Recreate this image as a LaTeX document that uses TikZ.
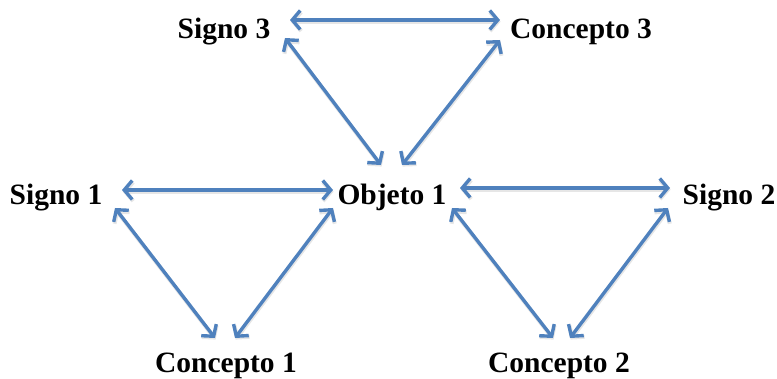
\documentclass[tikz,border=0pt]{standalone}
\usepackage{fontspec}
\setmainfont{Liberation Serif}
\usetikzlibrary{arrows.meta}
\definecolor{arrowblue}{HTML}{4F81BD}
\definecolor{shadowgray}{HTML}{E6E6E6}
\tikzset{
  lbl/.style={anchor=base, inner sep=0pt, font=\fontsize{29.5}{34}\selectfont\bfseries},
  tips/.style={{Straight Barb[length=8pt,width=19pt]}-{Straight Barb[length=8pt,width=19pt]}},
  link/.style={tips, draw=arrowblue, line width=3.4pt,
    preaction={draw=shadowgray, line width=4pt, transform canvas={shift={(0.6pt,-1.6pt)}}}},
}
\begin{document}
\begin{tikzpicture}[x=1pt,y=1pt]
\useasboundingbox (0,0) rectangle (777,379);
\node[lbl] (s3) at (224,340) {Signo 3};
\node[lbl] (c3) at (581,340) {Concepto 3};
\node[lbl] (s1) at (56,174) {Signo 1};
\node[lbl] (o1) at (392,174) {Objeto 1};
\node[lbl] (s2) at (729,174) {Signo 2};
\node[lbl] (c1) at (226,6) {Concepto 1};
\node[lbl] (c2) at (559,6) {Concepto 2};
\draw[link] ([shift={(66,19)}]s3.base) -- ([shift={(-81,19)}]c3.base);
\draw[link] ([shift={(61,1)}]s3.base) -- ([shift={(-11,40)}]o1.base);
\draw[link] ([shift={(-81,-1)}]c3.base) -- ([shift={(10,40)}]o1.base);
\draw[link] ([shift={(66,15)}]s1.base) -- ([shift={(-59,15)}]o1.base);
\draw[link] ([shift={(68,17)}]o1.base) -- ([shift={(-59,17)}]s2.base);
\draw[link] ([shift={(59,-3)}]s1.base) -- ([shift={(-11,35)}]c1.base);
\draw[link] ([shift={(-59,-3)}]o1.base) -- ([shift={(9,35)}]c1.base);
\draw[link] ([shift={(60,-3)}]o1.base) -- ([shift={(-6,35)}]c2.base);
\draw[link] ([shift={(-61,-3)}]s2.base) -- ([shift={(11,35)}]c2.base);
\end{tikzpicture}
\end{document}
